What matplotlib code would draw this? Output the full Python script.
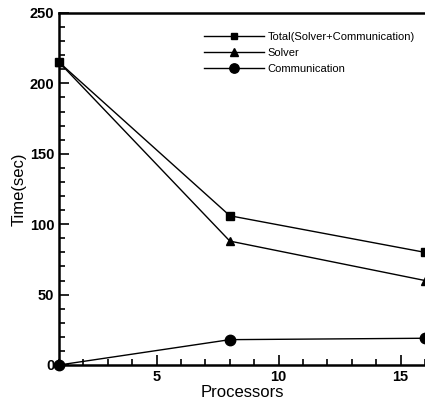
import matplotlib
matplotlib.use("Agg")
import matplotlib.pyplot as plt
from matplotlib.ticker import MultipleLocator

processors = [1, 8, 16]
total = [215, 106, 80]
solver = [215, 88, 60]
comm = [0, 18, 19]
labels = ["Total(Solver+Communication)", "Solver", "Communication"]

plt.rcParams['font.family'] = ['Liberation Sans', 'DejaVu Sans']

fig = plt.figure(figsize=(4.25, 4.0), dpi=100)
ax = fig.add_axes([0.139, 0.0875, 0.861, 0.88])

ax.plot(processors, total, color='black', lw=1.0, marker='s', ms=5.5, label=labels[0], clip_on=False)
ax.plot(processors, solver, color='black', lw=1.0, marker='^', ms=6, label=labels[1], clip_on=False)
ax.plot(processors, comm, color='black', lw=1.0, marker='o', ms=7.5, label=labels[2], clip_on=False)

ax.set_xlim(1, 16)
ax.set_ylim(0, 250)
ax.xaxis.set_major_locator(MultipleLocator(5))
ax.xaxis.set_minor_locator(MultipleLocator(1))
ax.yaxis.set_major_locator(MultipleLocator(50))
ax.yaxis.set_minor_locator(MultipleLocator(10))
ax.tick_params(which='both', direction='in', width=1.2)
ax.tick_params(which='major', length=7, labelsize=10.5)
ax.tick_params(which='minor', length=4)
for lab in ax.get_xticklabels() + ax.get_yticklabels():
    lab.set_fontweight('bold')

for side in ['left', 'bottom', 'top']:
    ax.spines[side].set_linewidth(1.8)
ax.spines['right'].set_visible(False)

ax.set_xlabel("Processors", fontsize=12, labelpad=0.5)
ax.set_ylabel("Time(sec)", fontsize=12, labelpad=2)

leg = ax.legend(loc='upper left', bbox_to_anchor=(0.37, 0.975), frameon=False,
                fontsize=8, handlelength=5.4, handletextpad=0.3, labelspacing=0.55,
                markerscale=0.9)

fig.savefig("out.png", dpi=100)
